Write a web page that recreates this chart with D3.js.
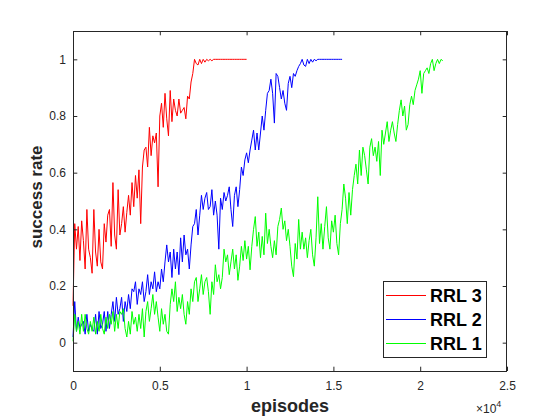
<html>
<body style="margin:0;background:#fff">
<script src="https://d3js.org/d3.v7.min.js"></script>
<svg width="560" height="420"></svg>
<script type="text/javascript">
var episodeStep = 100;

var rrl3 = [0.13,0.42,0.33,0.41,0.29,0.43,0.36,0.26,0.47,0.33,
    0.30,0.245,0.47,0.32,0.27,0.40,0.285,0.26,0.42,0.355,
    0.45,0.47,0.34,0.565,0.38,0.33,0.54,0.38,0.42,0.48,
    0.39,0.46,0.52,0.45,0.565,0.48,0.59,0.51,0.61,0.42,
    0.62,0.68,0.69,0.62,0.76,0.66,0.73,0.705,0.74,0.55,
    0.80,0.845,0.76,0.88,0.79,0.73,0.89,0.78,0.86,0.82,
    0.80,0.86,0.81,0.82,0.83,0.79,0.87,0.86,0.92,0.95,
    1,0.985,0.98,1,0.985,1,0.99,1,0.995,1,
    0.995,1,1,1,1,1,1,1,1,1,
    1,1,1,1,1,1,1,1,1,1,
    1];

var rrl2 = [0.02,0.145,0.04,0.09,0.05,0.065,0.075,0.03,0.10,0.04,
    0.065,0.047,0.04,0.10,0.03,0.11,0.05,0.065,0.11,0.04,
    0.11,0.05,0.10,0.145,0.075,0.16,0.10,0.12,0.16,0.075,
    0.145,0.11,0.17,0.12,0.19,0.18,0.215,0.135,0.19,0.17,
    0.215,0.145,0.18,0.24,0.17,0.215,0.19,0.25,0.18,0.215,
    0.19,0.26,0.215,0.285,0.345,0.285,0.32,0.23,0.33,0.26,
    0.32,0.24,0.37,0.285,0.38,0.31,0.33,0.26,0.345,0.41,
    0.42,0.47,0.38,0.45,0.52,0.47,0.51,0.53,0.47,0.48,
    0.54,0.45,0.50,0.45,0.33,0.51,0.47,0.53,0.50,0.52,
    0.55,0.47,0.41,0.52,0.55,0.48,0.54,0.62,0.59,0.645,
    0.67,0.635,0.68,0.715,0.75,0.68,0.74,
    0.68,0.74,0.80,0.75,0.82,0.88,0.89,0.93,0.88,0.775,
    0.95,0.94,0.90,0.86,0.89,0.845,0.82,0.915,0.94,0.90,
    0.95,0.94,0.96,0.975,0.985,1,0.98,0.975,1,0.985,
    1,0.99,1,0.995,1,
    1,1,1,1,1,1,1,1,1,1,1,1,1,1];

var rrl1 = [0.005,0.10,0.04,0.075,0.03,0.10,0.04,0.10,0.05,0.03,
    0.075,0.04,0.09,0.03,0.075,0.04,0.10,0.05,0.03,0.09,
    0.05,0.10,0.065,0.11,0.04,0.10,0.05,0.11,0.10,0.12,
    0.05,0.02,0.075,0.03,0.11,0.065,0.09,0.04,0.10,0.05,
    0.12,0.02,0.11,0.145,0.075,0.12,0.17,0.10,0.145,0.09,
    0.04,0.12,0.065,0.10,0.04,0.03,0.135,0.19,0.145,0.215,
    0.11,0.16,0.12,0.17,0.10,0.065,0.145,0.10,0.19,0.145,
    0.215,0.23,0.145,0.19,0.24,0.17,0.215,0.23,0.18,0.10,
    0.215,0.17,0.275,0.215,0.24,0.19,0.23,0.33,0.285,0.31,
    0.24,0.285,0.33,0.26,0.31,
    0.22,0.27,0.34,0.29,0.36,0.295,0.34,0.257,0.34,0.40,
    0.445,0.34,0.39,0.30,0.375,0.31,0.457,0.35,0.40,0.34,
    0.30,0.36,0.31,0.41,0.435,0.475,0.40,0.43,0.36,0.40,
    0.34,0.27,0.233,0.35,0.295,0.435,
    0.33,0.39,0.33,0.37,0.30,0.36,0.40,0.31,0.27,0.37,
    0.515,0.35,0.42,0.33,0.41,0.48,0.37,0.33,0.43,
    0.39,0.45,0.35,0.31,0.42,0.47,0.56,0.51,0.42,0.53,
    0.45,0.54,0.59,0.63,0.56,0.68,0.59,0.69,0.66,0.61,
    0.56,0.69,0.72,0.66,0.69,0.64,0.71,0.59,0.75,
    0.70,0.74,0.78,0.71,0.75,0.78,0.74,0.71,0.77,0.82,
    0.857,0.80,0.835,0.75,0.77,0.84,0.87,0.84,0.89,
    0.91,0.93,0.96,0.88,0.95,0.96,0.97,0.95,0.985,1.0,
    0.96,0.985,1.0,0.985,1.0,0.995];

var seriesNames = ["RRL 3", "RRL 2", "RRL 1"];
var seriesColors = ["#ff0000", "#0000ff", "#00ff00"];
var xTicks = [0, 5000, 10000, 15000, 20000, 25000];
var yTicks = [0, 0.2, 0.4, 0.6, 0.8, 1];

var font = "'Liberation Sans', Arial, Helvetica, sans-serif";
var axisColor = "#262626";

// plot box in pixels (note: "top" is reserved on window, so use plot* names)
var plotLeft = 73, plotRight = 507, plotTop = 31, plotBottom = 371;

var svg = d3.select("svg").style("font-family", font);

var x = d3.scaleLinear().domain([0, 25000]).range([plotLeft, plotRight]);
var y = d3.scaleLinear().domain([-0.1, 1.1]).range([plotBottom, plotTop]);

// lines first, plot order red, blue, green
var line = d3.line()
    .x(function(d, i) { return x(i * episodeStep); })
    .y(function(d) { return y(d); });

[rrl3, rrl2, rrl1].forEach(function(s, k) {
    svg.append("path")
        .datum(s)
        .attr("fill", "none")
        .attr("stroke", seriesColors[k])
        .attr("stroke-width", 1)
        .attr("stroke-linejoin", "round")
        .attr("d", line);
});

// axes, ticks pointing inwards on all four sides
function styleAxis(g) {
    g.select(".domain").remove();
    g.selectAll("line").attr("stroke", axisColor);
    g.selectAll("text").attr("fill", axisColor).style("font-size", "12px").style("font-family", font);
}

svg.append("g")
    .attr("transform", "translate(0," + plotBottom + ")")
    .call(d3.axisBottom(x).tickValues(xTicks).tickFormat(function(d) { return d / 1e4; })
        .tickSizeInner(-4.3).tickSizeOuter(0).tickPadding(10))
    .call(styleAxis);

svg.append("g")
    .attr("transform", "translate(0," + plotTop + ")")
    .call(d3.axisTop(x).tickValues(xTicks).tickFormat("").tickSizeInner(-4.3).tickSizeOuter(0))
    .call(styleAxis);

svg.append("g")
    .attr("transform", "translate(" + plotLeft + ",0)")
    .call(d3.axisLeft(y).tickValues(yTicks).tickFormat(String)
        .tickSizeInner(-4.3).tickSizeOuter(0).tickPadding(7))
    .call(styleAxis);

svg.append("g")
    .attr("transform", "translate(" + plotRight + ",0)")
    .call(d3.axisRight(y).tickValues(yTicks).tickFormat("").tickSizeInner(-4.3).tickSizeOuter(0))
    .call(styleAxis);

svg.append("rect")
    .attr("x", plotLeft + 0.5).attr("y", plotTop + 0.5)
    .attr("width", plotRight - plotLeft - 1).attr("height", plotBottom - plotTop)
    .attr("fill", "none").attr("stroke", axisColor);

// x10^4 exponent label
var expo = svg.append("text")
    .attr("x", 476).attr("y", 413)
    .attr("fill", axisColor).style("font-size", "12px");
expo.append("tspan").text("\u00d710");
expo.append("tspan").attr("dy", -6).style("font-size", "9px").text("4");

// axis labels
svg.append("text")
    .attr("x", (plotLeft + plotRight) / 2).attr("y", 412)
    .attr("text-anchor", "middle")
    .attr("fill", axisColor)
    .style("font-size", "18px").style("font-weight", "bold")
    .text("episodes");

svg.append("text")
    .attr("transform", "translate(42,197) rotate(-90)")
    .attr("text-anchor", "middle")
    .attr("fill", axisColor)
    .style("font-size", "17px").style("font-weight", "bold")
    .text("success rate");

// legend
var legend = svg.append("g");
legend.append("rect")
    .attr("x", 383.5).attr("y", 281.5)
    .attr("width", 103).attr("height", 76)
    .attr("fill", "#fff").attr("stroke", axisColor);

var legendY = [295.5, 319.5, 343.5];
seriesNames.forEach(function(name, k) {
    legend.append("line")
        .attr("x1", 386).attr("x2", 426)
        .attr("y1", legendY[k]).attr("y2", legendY[k])
        .attr("stroke", seriesColors[k]).attr("stroke-width", 1);
    legend.append("text")
        .attr("x", 430).attr("y", legendY[k] + 6.5)
        .attr("fill", "#000")
        .style("font-size", "18px").style("font-weight", "bold")
        .text(name);
});
</script>
</body>
</html>
